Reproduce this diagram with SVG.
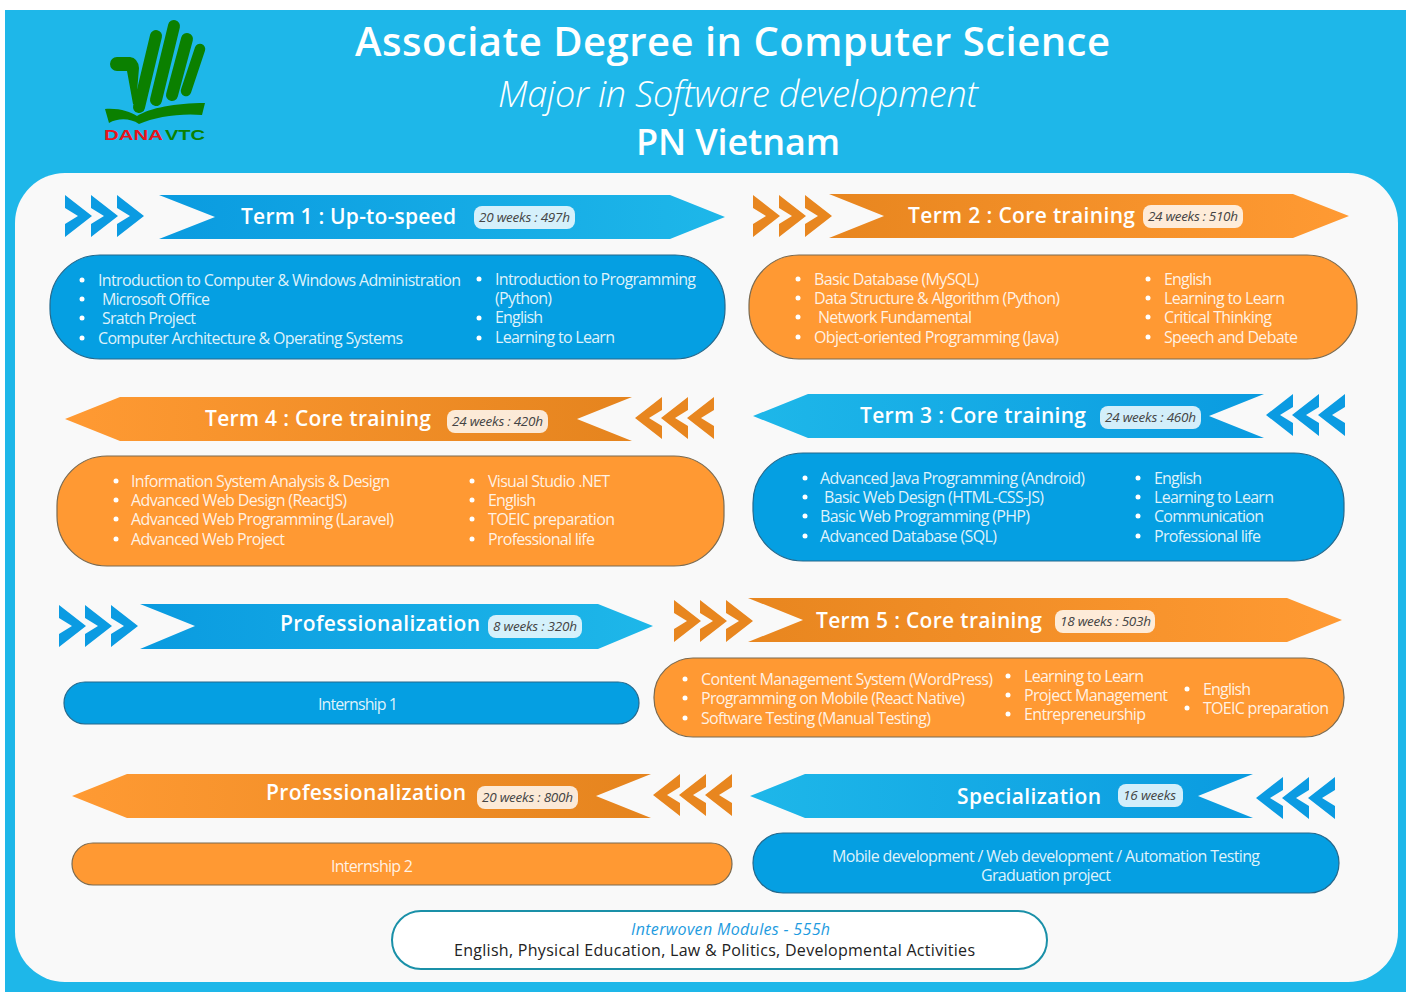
<svg xmlns="http://www.w3.org/2000/svg" xmlns:xlink="http://www.w3.org/1999/xlink" width="1412" height="992" viewBox="0 0 1412 992">
<style>
text{font-family:"Open Sans","Noto Sans","DejaVu Sans",sans-serif}
.b{font-size:16px;fill:#fff;fill-opacity:.88}
.h{font-size:21px;font-weight:600;fill:#fff}
.w{font-size:13.5px;font-style:italic;fill:#444}
.bp{fill:#fff;fill-opacity:.82}
.db{fill:#fff}
.pb{fill:#059fe2;stroke:#24688c;stroke-width:1.2}
.po{fill:#ff9933;stroke:#7a6a50;stroke-width:1.2}
.cb{fill:#0b9be2}
.co{fill:#e8861f}
</style>
<defs>
<linearGradient id="gbr" x1="0" x2="1" y1="0" y2="0"><stop offset="0" stop-color="#0a9be0"/><stop offset="1" stop-color="#1eb7e9"/></linearGradient>
<linearGradient id="gbl" x1="0" x2="1" y1="0" y2="0"><stop offset="0" stop-color="#1eb7e9"/><stop offset="1" stop-color="#0a9be0"/></linearGradient>
<linearGradient id="gor" x1="0" x2="1" y1="0" y2="0"><stop offset="0" stop-color="#e8861f"/><stop offset="1" stop-color="#ff9a33"/></linearGradient>
<linearGradient id="gol" x1="0" x2="1" y1="0" y2="0"><stop offset="0" stop-color="#ff9a33"/><stop offset="1" stop-color="#e5841e"/></linearGradient>
<g id="cr"><path d="M0,0L27,21L0,42V29L13,21L0,13Z"/><path transform="translate(26)" d="M0,0L27,21L0,42V29L13,21L0,13Z"/><path transform="translate(52)" d="M0,0L27,21L0,42V29L13,21L0,13Z"/></g>
<g id="cl"><path d="M78,0L51,21L78,42V29L65,21L78,13Z"/><path transform="translate(-26)" d="M78,0L51,21L78,42V29L65,21L78,13Z"/><path transform="translate(-52)" d="M78,0L51,21L78,42V29L65,21L78,13Z"/></g>
</defs>
<rect id="background" x="5" y="10" width="1401" height="982" fill="#1eb7e9"/>
<rect id="panel" x="15" y="173" width="1383" height="809" rx="50" fill="#f9f9f9"/>
<g id="logo">
<path fill="#0b8000" d="M117,57H130Q138,58 139,68L136,104H133L127,71H117A7,7 0 0 1 117,57Z"/>
<g fill="none" stroke="#0b8000" stroke-linecap="round" stroke-linejoin="round">
<path stroke-width="12" d="M139,107L156,36"/>
<path stroke-width="12" d="M156,100L174,26"/>
<path stroke-width="12" d="M172,95L187,39"/>
<path stroke-width="10.500" d="M186,91L200,49"/>
</g>
<path fill="#0b8000" d="M105,109C120,108 130,112 137,116C150,108 175,103 205,103L202,115C180,113 155,117 139,124C130,118 118,118 109,123Z"/>
<text x="104" y="140" font-size="14" font-weight="700" fill="#e8141c" textLength="59" lengthAdjust="spacingAndGlyphs" style="font-family:'Liberation Sans',sans-serif">DANA</text>
<text x="165" y="140" font-size="14" font-weight="700" fill="#0b8000" textLength="40" lengthAdjust="spacingAndGlyphs" style="font-family:'Liberation Sans',sans-serif">VTC</text>
</g>
<g id="title" fill="#fff">
<text x="355" y="56" font-size="40" font-weight="600" textLength="755">Associate Degree in Computer Science</text>
<text x="498" y="107" font-size="36" font-style="italic" font-weight="300" textLength="480">Major in Software development</text>
<text x="636" y="155" font-size="36" font-weight="600" textLength="204">PN Vietnam</text>
</g>
<g id="term1">
<use href="#cr" x="65" y="195" class="cb"/>
<path fill="url(#gbr)" d="M159,195L215,217L159,239H670L725,217L670,195Z"/>
<text class="h" x="241" y="223.500" textLength="215">Term 1 : Up-to-speed</text>
<rect class="bp" x="474" y="206" width="101" height="23" rx="8"/>
<text class="w" x="479" y="222" textLength="91">20 weeks : 497h</text>
<rect class="pb" x="50" y="255" width="675" height="104" rx="50"/>
<g class="db"><circle cx="82" cy="280" r="2.500"/><circle cx="82" cy="299" r="2.500"/><circle cx="82" cy="318" r="2.500"/><circle cx="82" cy="338" r="2.500"/><circle cx="479" cy="279" r="2.500"/><circle cx="479" cy="318" r="2.500"/><circle cx="479" cy="338" r="2.500"/></g>
<text class="b" x="98" y="285.500" textLength="363">Introduction to Computer &amp; Windows Administration</text>
<text class="b" x="102" y="304.500" textLength="108">Microsoft Office</text>
<text class="b" x="102" y="323.500" textLength="94">Sratch Project</text>
<text class="b" x="98" y="343.500" textLength="305">Computer Architecture &amp; Operating Systems</text>
<text class="b" x="495" y="285" textLength="201">Introduction to Programming</text>
<text class="b" x="495" y="304" textLength="57">(Python)</text>
<text class="b" x="495" y="323" textLength="48">English</text>
<text class="b" x="495" y="343" textLength="120">Learning to Learn</text>
</g>
<g id="term2">
<use href="#cr" x="753" y="195" class="co"/>
<path fill="url(#gor)" d="M829,194L884,216L829,238H1293L1349,216L1293,194Z"/>
<text class="h" x="908" y="223" textLength="227">Term 2 : Core training</text>
<rect class="bp" x="1143" y="205" width="100" height="23" rx="8"/>
<text class="w" x="1148" y="221" textLength="90">24 weeks : 510h</text>
<rect class="po" x="749" y="255" width="608" height="104" rx="50"/>
<g class="db"><circle cx="798" cy="279" r="2.500"/><circle cx="798" cy="298" r="2.500"/><circle cx="798" cy="317" r="2.500"/><circle cx="798" cy="337" r="2.500"/><circle cx="1148" cy="279" r="2.500"/><circle cx="1148" cy="298" r="2.500"/><circle cx="1148" cy="317" r="2.500"/><circle cx="1148" cy="337" r="2.500"/></g>
<text class="b" x="814" y="285" textLength="165">Basic Database (MySQL)</text>
<text class="b" x="814" y="304" textLength="246">Data Structure &amp; Algorithm (Python)</text>
<text class="b" x="818" y="323" textLength="154">Network Fundamental</text>
<text class="b" x="814" y="343" textLength="245">Object-oriented Programming (Java)</text>
<text class="b" x="1164" y="285" textLength="48">English</text>
<text class="b" x="1164" y="304" textLength="121">Learning to Learn</text>
<text class="b" x="1164" y="323" textLength="108">Critical Thinking</text>
<text class="b" x="1164" y="343" textLength="134">Speech and Debate</text>
</g>
<g id="term4">
<use href="#cl" x="636" y="397" class="co"/>
<path fill="url(#gol)" d="M65,419L120,397H632L577,419L632,441H120Z"/>
<text class="h" x="205" y="426" textLength="226">Term 4 : Core training</text>
<rect class="bp" x="447" y="410" width="101" height="23" rx="8"/>
<text class="w" x="452" y="426" textLength="91">24 weeks : 420h</text>
<rect class="po" x="57" y="456" width="667" height="110" rx="50"/>
<g class="db"><circle cx="116" cy="481" r="2.500"/><circle cx="116" cy="500" r="2.500"/><circle cx="116" cy="519" r="2.500"/><circle cx="116" cy="539" r="2.500"/><circle cx="472" cy="481" r="2.500"/><circle cx="472" cy="500" r="2.500"/><circle cx="472" cy="519" r="2.500"/><circle cx="472" cy="539" r="2.500"/></g>
<text class="b" x="131" y="487" textLength="259">Information System Analysis &amp; Design</text>
<text class="b" x="131" y="506" textLength="216">Advanced Web Design (ReactJS)</text>
<text class="b" x="131" y="525" textLength="263">Advanced Web Programming (Laravel)</text>
<text class="b" x="131" y="545" textLength="154">Advanced Web Project</text>
<text class="b" x="488" y="487" textLength="122">Visual Studio .NET</text>
<text class="b" x="488" y="506" textLength="48">English</text>
<text class="b" x="488" y="525" textLength="127">TOEIC preparation</text>
<text class="b" x="488" y="545" textLength="107">Professional life</text>
</g>
<g id="term3">
<use href="#cl" x="1267" y="394" class="cb"/>
<path fill="url(#gbl)" d="M753,416L808,394H1264L1209,416L1264,438H808Z"/>
<text class="h" x="860" y="423" textLength="226">Term 3 : Core training</text>
<rect class="bp" x="1100" y="406" width="101" height="23" rx="8"/>
<text class="w" x="1105" y="422" textLength="91">24 weeks : 460h</text>
<rect class="pb" x="753" y="453" width="591" height="108" rx="50"/>
<g class="db"><circle cx="805" cy="478" r="2.500"/><circle cx="805" cy="497" r="2.500"/><circle cx="805" cy="516" r="2.500"/><circle cx="805" cy="536" r="2.500"/><circle cx="1138" cy="478" r="2.500"/><circle cx="1138" cy="497" r="2.500"/><circle cx="1138" cy="516" r="2.500"/><circle cx="1138" cy="536" r="2.500"/></g>
<text class="b" x="820" y="484" textLength="265">Advanced Java Programming (Android)</text>
<text class="b" x="824" y="503" textLength="220">Basic Web Design (HTML-CSS-JS)</text>
<text class="b" x="820" y="522" textLength="210">Basic Web Programming (PHP)</text>
<text class="b" x="820" y="542" textLength="177">Advanced Database (SQL)</text>
<text class="b" x="1154" y="484" textLength="48">English</text>
<text class="b" x="1154" y="503" textLength="120">Learning to Learn</text>
<text class="b" x="1154" y="522" textLength="110">Communication</text>
<text class="b" x="1154" y="542" textLength="107">Professional life</text>
</g>
<g id="professionalization1">
<use href="#cr" x="59" y="605" class="cb"/>
<path fill="url(#gbr)" d="M140,604L195,626L140,649H598L653,626L598,604Z"/>
<text class="h" x="280" y="631" textLength="200">Professionalization</text>
<rect class="bp" x="488" y="615" width="94" height="23" rx="8"/>
<text class="w" x="493" y="631" textLength="84">8 weeks : 320h</text>
<rect class="pb" x="64" y="682" width="575" height="42" rx="21"/>
<text class="b" x="318" y="710" textLength="80">Internship 1</text>
</g>
<g id="term5">
<use href="#cr" x="674" y="600" class="co"/>
<path fill="url(#gor)" d="M748,598L803,620L748,642H1287L1342,620L1287,598Z"/>
<text class="h" x="816" y="628" textLength="226">Term 5 : Core training</text>
<rect class="bp" x="1055" y="610" width="100" height="23" rx="8"/>
<text class="w" x="1060" y="626" textLength="91">18 weeks : 503h</text>
<rect class="po" x="654" y="658" width="690" height="79" rx="39"/>
<g class="db"><circle cx="685" cy="679" r="2.500"/><circle cx="685" cy="698" r="2.500"/><circle cx="685" cy="718" r="2.500"/><circle cx="1008" cy="676" r="2.500"/><circle cx="1008" cy="695" r="2.500"/><circle cx="1008" cy="714" r="2.500"/><circle cx="1187" cy="689" r="2.500"/><circle cx="1187" cy="708" r="2.500"/></g>
<text class="b" x="701" y="685" textLength="292">Content Management System (WordPress)</text>
<text class="b" x="701" y="704" textLength="264">Programming on Mobile (React Native)</text>
<text class="b" x="701" y="724" textLength="230">Software Testing (Manual Testing)</text>
<text class="b" x="1024" y="682" textLength="120">Learning to Learn</text>
<text class="b" x="1024" y="701" textLength="144">Project Management</text>
<text class="b" x="1024" y="720" textLength="122">Entrepreneurship</text>
<text class="b" x="1203" y="695" textLength="48">English</text>
<text class="b" x="1203" y="714" textLength="126">TOEIC preparation</text>
</g>
<g id="professionalization2">
<use href="#cl" x="654" y="774" class="co"/>
<path fill="url(#gol)" d="M72,796L127,774H651L596,796L651,818H127Z"/>
<text class="h" x="266" y="800" textLength="200">Professionalization</text>
<rect class="bp" x="477" y="786" width="101" height="23" rx="8"/>
<text class="w" x="482" y="802" textLength="91">20 weeks : 800h</text>
<rect class="po" x="72" y="843" width="660" height="42" rx="21"/>
<text class="b" x="331" y="872" textLength="82">Internship 2</text>
</g>
<g id="specialization">
<use href="#cl" x="1257" y="777" class="cb"/>
<path fill="url(#gbl)" d="M750,796L805,774H1253L1198,796L1253,818H805Z"/>
<text class="h" x="957" y="804" textLength="144">Specialization</text>
<rect class="bp" x="1118" y="784" width="65" height="23" rx="8"/>
<text class="w" x="1123" y="800" textLength="53">16 weeks</text>
<rect class="pb" x="753" y="833" width="586" height="60" rx="30"/>
<text class="b" x="832" y="862" textLength="428">Mobile development / Web development / Automation Testing</text>
<text class="b" x="981" y="881" textLength="130">Graduation project</text>
</g>
<g id="interwoven">
<rect x="392" y="911" width="655" height="58" rx="29" fill="#fff" stroke="#1a90a8" stroke-width="2"/>
<text x="631" y="935" font-size="16" font-style="italic" fill="#1e9be0" textLength="199">Interwoven Modules - 555h</text>
<text x="454" y="956" font-size="16" fill="#222" textLength="521">English, Physical Education, Law &amp; Politics, Developmental Activities</text>
</g>
<g id="connectors"/>
</svg>
